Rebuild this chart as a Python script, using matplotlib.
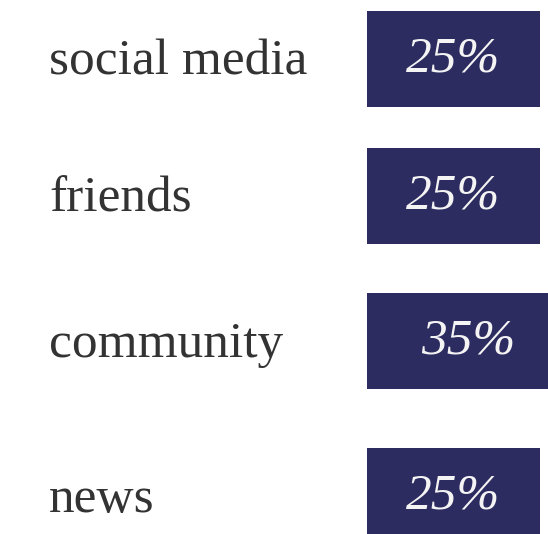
import matplotlib
matplotlib.use("Agg")
import matplotlib.pyplot as plt
import matplotlib.transforms as mtransforms

# data
categories = ["social media", "friends", "community", "news"]
values = [25, 25, 35, 25]
value_labels = ["25%", "25%", "35%", "25%"]

# layout: row centres (in row units, the rows are not evenly spaced in the original)
row_pos = [0, 0.94, 1.935, 3.0]

BAR_COLOR = "#2d2c61"
TEXT_COLOR = "#333333"
W, H, DPI = 548, 534, 100


def main():
    fig = plt.figure(figsize=(W / DPI, H / DPI), dpi=DPI)
    fig.patch.set_facecolor("white")

    # bars live in an axes starting at the bar's left edge, running off the right side
    left = 367 / W
    ax = fig.add_axes([left, 0, 1 - left, 1])
    px_per_unit = 6.92
    xmax = (W - 367) / px_per_unit
    ax.set_xlim(0, xmax)

    row_px = 145.7
    ax.set_ylim(3 + (H - 496) / row_px, -59 / row_px)
    ax.axis("off")

    ax.barh(row_pos, values, height=96 / row_px, color=BAR_COLOR, left=0)

    label_tf = mtransforms.blended_transform_factory(fig.transFigure, ax.transData)
    for r, cat, v, lab in zip(row_pos, categories, values, value_labels):
        # category name on the left
        ax.annotate(cat, xy=(49 / W, r), xycoords=label_tf,
                    xytext=(0, -11.5), textcoords="offset points",
                    ha="left", va="baseline", fontsize=37,
                    family="Liberation Serif", color=TEXT_COLOR)
        # percentage inside the bar
        shown = min(v, xmax)
        shift = 8 if v > xmax else 0
        ax.annotate(lab, xy=(shown / 2, r), xycoords="data",
                    xytext=(shift, 0), textcoords="offset points",
                    ha="center", va="center", fontsize=37,
                    family="Liberation Serif", style="italic", color="#f4f4f4")

    fig.savefig("out.png", dpi=DPI)


if __name__ == "__main__":
    main()
